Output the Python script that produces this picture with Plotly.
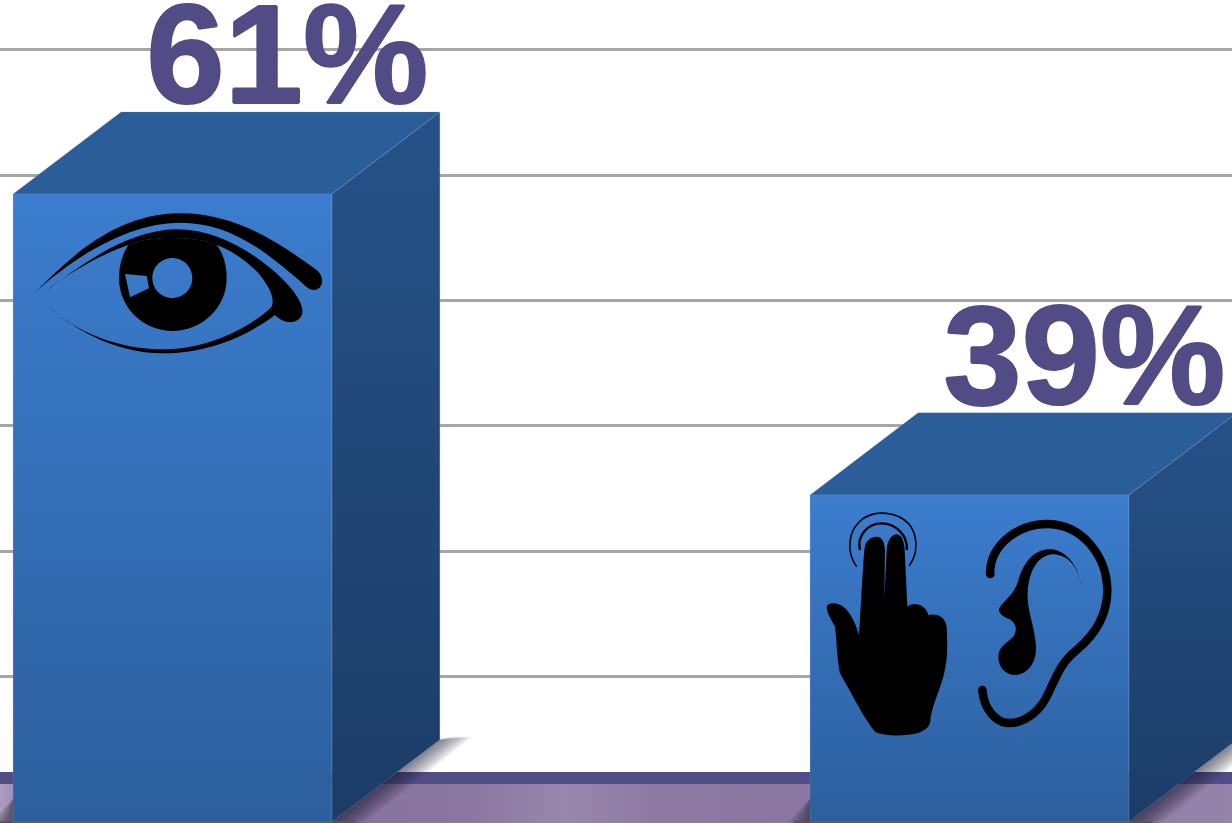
import re
import plotly.graph_objects as go

# Chart values
categories = ["Visual", "Auditory and kinesthetic"]
shares = [61, 39]
grid_levels = [71.55, 62.38, 53.22, 44.05, 34.88, 25.72]

# Axis windows and the 3D box geometry, in axis units
X_RANGE = [-0.2164, 1.3294]
Y_RANGE = [15.02, 75.18]
BOX_FLOOR = 15.1
BOX_WIDTH = 0.4
DEPTH_X = 0.1355
DEPTH_Y = 6.0
BAND_TOP = 18.75
BAND_BOTTOM = 17.87
LABEL_DROP = 1.9

INK = "#514c85"
W, H = 1232, 823

fig = go.Figure()


def poly(xs, ys, **kw):
    fig.add_trace(go.Scatter(x=xs + xs[:1], y=ys + ys[:1], mode="lines", fill="toself",
                             hoverinfo="skip", showlegend=False, **kw))


# Floor strip under the plot wall
poly([X_RANGE[0], X_RANGE[1], X_RANGE[1], X_RANGE[0]],
     [BAND_BOTTOM, BAND_BOTTOM, Y_RANGE[0], Y_RANGE[0]],
     line=dict(width=0),
     fillgradient=dict(type="horizontal", colorscale=[
         [0.0, "#ab9dbf"], [0.012, "#a090b6"], [0.28, "#87739e"], [0.38, "#8a76a0"],
         [0.46, "#9a87ad"], [0.53, "#8d79a2"], [0.64, "#8a76a0"], [0.93, "#937fa8"], [1.0, "#9583aa"]]))
poly([X_RANGE[0], X_RANGE[1], X_RANGE[1], X_RANGE[0]],
     [BAND_TOP, BAND_TOP, BAND_BOTTOM, BAND_BOTTOM],
     line=dict(width=0), fillcolor=INK)

# Soft cast shadows, built up from translucent layers
spreads = [0.04, 0.036, 0.032, 0.028, 0.024, 0.02, 0.016, 0.012, 0.008, 0.004]
for center in range(len(categories)):
    right = center + BOX_WIDTH / 2
    left = center - BOX_WIDTH / 2
    for spread in spreads:
        poly([right, right + DEPTH_X, right + DEPTH_X + spread, right + spread],
             [BOX_FLOOR, BOX_FLOOR + DEPTH_Y, BOX_FLOOR + DEPTH_Y + 0.3 - spread * 2, BOX_FLOOR - 0.1],
             line=dict(width=0), fillcolor="rgba(30,25,45,0.08)")
        poly([left - spread * 0.7, left, left, left - spread * 0.2],
             [BOX_FLOOR, BOX_FLOOR, BOX_FLOOR + 1.7, BOX_FLOOR + 1.2],
             line=dict(width=0), fillcolor="rgba(30,25,45,0.07)")
    # Dark contact edge along the foot of the box
    poly([left - 0.02, right + 0.03, right + 0.03, left - 0.02],
         [Y_RANGE[0], Y_RANGE[0], BOX_FLOOR + 0.05, BOX_FLOOR + 0.05],
         line=dict(width=0), fillcolor="#5d4c70")

# Boxes: front, top and side faces
edge = dict(width=1, color="rgba(135,160,200,0.22)")
for center, value in enumerate(shares):
    left, right = center - BOX_WIDTH / 2, center + BOX_WIDTH / 2
    poly([right, right + DEPTH_X, right + DEPTH_X, right],
         [value, value + DEPTH_Y, BOX_FLOOR + DEPTH_Y, BOX_FLOOR],
         line=edge,
         fillgradient=dict(type="vertical", colorscale=[[0, "#1c3c66"], [1, "#265288"]]))
    poly([left, left + DEPTH_X, right + DEPTH_X, right],
         [value, value + DEPTH_Y, value + DEPTH_Y, value],
         line=edge, fillcolor="#2b5e99")
    poly([left, right, right, left],
         [BOX_FLOOR, BOX_FLOOR, value, value],
         line=edge,
         fillgradient=dict(type="vertical", colorscale=[[0, "#2c5f9d"], [1, "#3b7dce"]]))

# Percentage labels above each box
fig.add_trace(go.Scatter(
    x=[c + DEPTH_X + 0.0085 for c in range(len(shares))],
    y=[v + DEPTH_Y - LABEL_DROP for v in shares],
    mode="text",
    text=[f"{v}%" for v in shares],
    textposition="top center",
    textfont=dict(family="Liberation Sans", size=141, color=INK, weight=700,
                  shadow=f"1px 0 0 {INK}, -1px 0 0 {INK}, 0 1px 0 {INK}, 0 -1px 0 {INK}"),
    cliponaxis=False, hoverinfo="skip", showlegend=False))


# Icon outlines are authored on a 3x grid and placed on the page from an origin
def place(path, ox, oy):
    def repl(m):
        px = ox + float(m.group(1)) / 3
        py = oy + float(m.group(2)) / 3
        return f"{px / W:.5f},{1 - py / H:.5f}"
    return re.sub(r"(-?\d+\.?\d*),(-?\d+\.?\d*)", repl, path)


def ellipse(cx, cy, rx, ry):
    k = 0.5523
    return (f"M{cx - rx},{cy} C{cx - rx},{cy - k * ry} {cx - k * rx},{cy - ry} {cx},{cy - ry} "
            f"C{cx + k * rx},{cy - ry} {cx + rx},{cy - k * ry} {cx + rx},{cy} "
            f"C{cx + rx},{cy + k * ry} {cx + k * rx},{cy + ry} {cx},{cy + ry} "
            f"C{cx - k * rx},{cy + ry} {cx - rx},{cy + k * ry} {cx - rx},{cy} Z ")


def icon(path, ox, oy, fill=True, width=0):
    fig.add_shape(type="path", path=place(path, ox, oy), xref="paper", yref="paper",
                  fillcolor="black" if fill else "rgba(0,0,0,0)",
                  fillrule="evenodd",
                  line=dict(width=width, color="black"), layer="above")


# Eye
EYE = (20, 200)
icon("M45,278 C150,170 290,40 480,40 C650,40 780,130 890,210 C915,230 910,265 885,270 "
     "C865,272 855,255 830,235 C720,140 620,68 480,68 C320,68 150,180 45,278 Z", *EYE)
icon("M72,278 C200,180 330,90 470,88 C600,88 720,170 790,240 C830,280 855,320 845,345 "
     "C835,372 795,375 765,345 C680,410 560,460 430,460 C280,460 150,380 80,315 "
     "C170,400 300,448 430,448 C560,448 690,385 755,320 C765,295 750,265 720,225 "
     "C680,180 630,150 590,135 C560,115 400,100 325,135 C250,160 150,215 72,278 Z", *EYE)
icon("M325,135 C305,165 297,200 297,235 C297,322 369,393 458,393 C547,393 620,322 620,235 "
     "C620,195 610,160 590,135 C560,115 400,100 325,135 Z " + ellipse(457, 234, 60, 60) +
     "M315,222 L380,228 L387,265 L330,292 Z", *EYE)

# Two-finger touch gesture
HAND = (810, 500)
icon("M50,320 C55,305 85,308 100,320 C125,340 140,380 147,405 C150,370 155,250 163,150 "
     "C165,120 185,110 200,110 C218,110 224,130 225,150 L223,300 L230,150 "
     "C232,115 250,101 262,103 C282,108 284,140 285,170 L292,320 C310,305 345,310 355,345 "
     "C375,340 405,345 410,380 C412,440 415,470 400,530 C385,580 370,610 362,650 "
     "C362,680 350,690 320,700 C280,710 220,708 195,695 C165,660 130,590 90,520 "
     "C80,470 80,420 75,380 C65,360 50,340 50,320 Z", *HAND)
icon("M140,200 C110,160 110,90 160,55 C200,30 260,35 295,70 C325,105 325,160 298,197",
     *HAND, fill=False, width=1.6)
icon("M150,150 C140,110 170,70 215,70 C255,70 295,105 290,150", *HAND, fill=False, width=2.4)

# Ear
icon("M540,222 C540,130 630,70 715,72 C820,75 890,170 892,270 C892,340 860,400 800,450 "
     "C750,490 740,530 710,590 C680,650 620,680 575,665 C540,650 520,610 517,570",
     *HAND, fill=False, width=8.5)
icon(ellipse(541, 222, 13, 13), *HAND)
icon(ellipse(517, 570, 13, 13), *HAND)
icon("M815,270 C810,200 770,150 720,147 C670,148 640,190 625,240 C615,280 590,295 570,320 "
     "C560,335 575,350 600,358 C615,370 625,385 610,410 C590,430 565,440 565,470 "
     "C565,505 590,525 615,525 C650,525 680,490 678,440 C675,380 650,330 653,280 "
     "C655,220 680,165 730,163 C780,165 810,210 815,270 Z", *HAND)

fig.update_layout(
    width=W, height=H, margin=dict(l=0, r=0, t=0, b=0),
    paper_bgcolor="white", plot_bgcolor="white", showlegend=False,
    xaxis=dict(range=X_RANGE, visible=False, fixedrange=True),
    yaxis=dict(range=Y_RANGE, tickmode="array", tickvals=grid_levels, showticklabels=False,
               ticks="", showgrid=True, gridcolor="#a6a6a6", gridwidth=2.5, zeroline=False,
               showline=False, fixedrange=True),
)
fig.write_html("out.html", config={"displayModeBar": False})
